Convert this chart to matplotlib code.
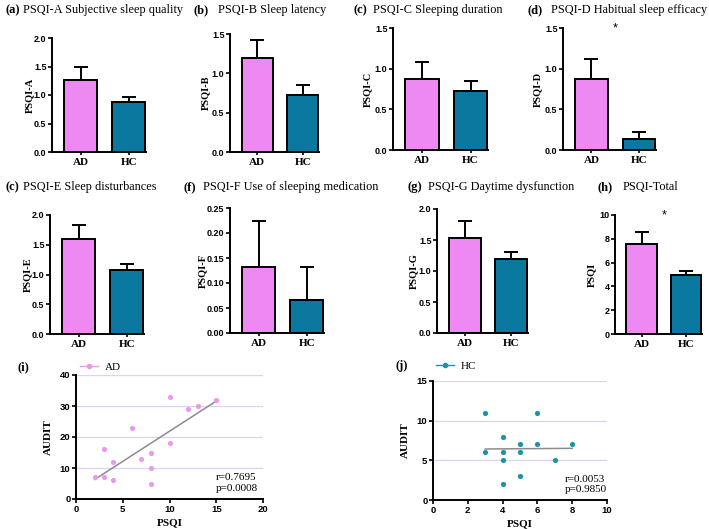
import matplotlib
matplotlib.use("Agg")
import matplotlib.pyplot as plt
import numpy as np
from matplotlib.lines import Line2D

# bar panels: tags, titles, y labels, means and mean+sem tops
groups = ["AD", "HC"]
panel_tags = ["(a)", "(b)", "(c)", "(d)", "(c)", "(f)", "(g)", "(h)"]
panel_titles = ["PSQI-A Subjective sleep quality", "PSQI-B Sleep latency",
                "PSQI-C Sleeping duration", "PSQI-D Habitual sleep efficacy",
                "PSQI-E Sleep disturbances", "PSQI-F Use of sleeping medication",
                "PSQI-G Daytime dysfunction", "PSQI-Total"]
ylabels = ["PSQI-A", "PSQI-B", "PSQI-C", "PSQI-D", "PSQI-E", "PSQI-F", "PSQI-G", "PSQI"]
ad_mean = [1.27, 1.20, 0.87, 0.87, 1.60, 0.133, 1.53, 7.53]
ad_top = [1.50, 1.42, 1.08, 1.12, 1.83, 0.224, 1.80, 8.53]
hc_mean = [0.87, 0.73, 0.73, 0.13, 1.07, 0.067, 1.20, 4.93]
hc_top = [0.96, 0.85, 0.85, 0.22, 1.18, 0.133, 1.30, 5.27]
ytick_sets = [[0, 0.5, 1.0, 1.5, 2.0], [0, 0.5, 1.0, 1.5], [0, 0.5, 1.0, 1.5],
              [0, 0.5, 1.0, 1.5], [0, 0.5, 1.0, 1.5, 2.0],
              [0, 0.05, 0.10, 0.15, 0.20, 0.25], [0, 0.5, 1.0, 1.5, 2.0],
              [0, 2, 4, 6, 8, 10]]
ytick_fmt = ["%.1f", "%.1f", "%.1f", "%.1f", "%.1f", "%.2f", "%.1f", "%d"]
stars = [False, False, False, True, False, False, False, True]

# scatter data
ad_psqi = [2, 3, 3, 4, 4, 6, 7, 8, 8, 8, 10, 10, 12, 13, 15]
ad_audit = [7, 7, 16, 12, 6, 23, 13, 15, 10, 5, 33, 18, 29, 30, 32]
hc_psqi = [3, 3, 4, 4, 4, 4, 5, 5, 5, 6, 6, 7, 8]
hc_audit = [11, 6, 8, 6, 5, 2, 7, 6, 3, 11, 7, 5, 7]

AD_COL = "#EE88F2"
HC_COL = "#0B78A0"
AD_DOT = "#E99AEB"
HC_DOT = "#1895A5"
GRID = "#D6D6F2"

W, H = 709, 529
fig = plt.figure(figsize=(W / 100, H / 100), dpi=100)
serif = "Liberation Serif"
sans = "Liberation Sans"


def box(l, t, r, b):
    return [l / W, 1 - b / H, (r - l) / W, (b - t) / H]


# pixel boxes (left, top, right, bottom) of each bar axes
bar_boxes = [(52, 38, 146, 152), (230, 34, 319, 152), (393, 28, 488, 150), (563, 28, 656, 150),
             (50, 215, 144, 334), (230, 208, 324, 333), (437, 209, 528, 333), (615, 215, 702, 334)]
title_pos = [(5, 10), (193, 10), (353, 10), (528, 10), (5, 187), (183, 187), (408, 187), (597, 187)]
title_gap = [18, 25, 20, 23, 18, 20, 20, 26]
ylabel_x = [30, 206, 368, 538, 28, 203, 414, 592]

for i in range(8):
    ax = fig.add_axes(box(*bar_boxes[i]))
    ax.bar([0, 1], [ad_mean[i], hc_mean[i]], width=0.69, color=[AD_COL, HC_COL],
           edgecolor="black", linewidth=1.4, zorder=2)
    for x, m, t in [(0, ad_mean[i], ad_top[i]), (1, hc_mean[i], hc_top[i])]:
        ax.errorbar([x], [m], yerr=[[0], [t - m]], fmt="none", ecolor="black",
                    elinewidth=1.4, capsize=5, capthick=1.4, zorder=1)
    ax.set_xlim(-0.6, 1.36)
    ax.set_ylim(0, ytick_sets[i][-1])
    ax.set_yticks(ytick_sets[i])
    ax.set_yticklabels([ytick_fmt[i] % v for v in ytick_sets[i]], fontfamily=sans,
                       fontweight="bold", fontsize=6.5)
    ax.set_xticks([0, 1])
    ax.set_xticklabels(groups, fontfamily=serif, fontweight="bold", fontsize=8)
    ax.tick_params(axis="y", length=3, width=1.2, pad=1)
    ax.tick_params(axis="x", length=2, width=1.2, pad=2)
    for s in ["top", "right"]:
        ax.spines[s].set_visible(False)
    for s in ["left", "bottom"]:
        ax.spines[s].set_linewidth(1.4)
    if stars[i]:
        ax.text(0.5, ytick_sets[i][-1], "*", ha="center", va="center", fontsize=9,
                fontfamily=sans)
    tx, ty = title_pos[i]
    fig.text(tx / W, 1 - ty / H, panel_tags[i], fontfamily=serif, fontweight="bold",
             fontsize=9, va="center")
    fig.text((tx + title_gap[i]) / W, 1 - ty / H, panel_titles[i], fontfamily=serif,
             fontsize=8.8, va="center")
    l, t, r, b = bar_boxes[i]
    fig.text(ylabel_x[i] / W, 1 - ((t + b) / 2) / H, ylabels[i], rotation=90,
             fontfamily=serif, fontweight="bold", fontsize=7.5, ha="center", va="center")


def scatter_panel(bx, xs, ys, xlim, xt, ylim, yt, dot, name, tag, tagpos, legx, rtxt, ptxt, rx):
    ax = fig.add_axes(box(*bx))
    for v in yt[1:]:
        ax.axhline(v, color=GRID, linewidth=0.9, zorder=0)
    ax.scatter(xs, ys, s=14, color=dot, zorder=3, linewidths=0)
    k, c = np.polyfit(xs, ys, 1)
    xx = np.array([min(xs), max(xs)])
    ax.plot(xx, k * xx + c, color="#8C8C8C", linewidth=1.1, zorder=2)
    ax.set_xlim(*xlim)
    ax.set_ylim(*ylim)
    ax.set_xticks(xt)
    ax.set_yticks(yt)
    for lab in ax.get_xticklabels() + ax.get_yticklabels():
        lab.set_fontfamily(sans)
        lab.set_fontweight("bold")
        lab.set_fontsize(6.8)
    ax.tick_params(length=3, width=1.2, pad=1)
    for s in ["top", "right"]:
        ax.spines[s].set_visible(False)
    for s in ["left", "bottom"]:
        ax.spines[s].set_linewidth(1.4)
    ax.set_xlabel("PSQI", fontfamily=serif, fontweight="bold", fontsize=8, labelpad=3)
    ax.set_ylabel("AUDIT", fontfamily=serif, fontweight="bold", fontsize=8, labelpad=5)
    ax.text(rx, ylim[1] * 0.17, rtxt, fontfamily=serif, fontsize=8, va="center")
    ax.text(rx, ylim[1] * 0.085, ptxt, fontfamily=serif, fontsize=8, va="center")
    fig.text(tagpos[0] / W, 1 - tagpos[1] / H, tag, fontfamily=serif, fontweight="bold",
             fontsize=9, va="center")
    h = Line2D([], [], color=dot, marker="o", markersize=3, linewidth=1)
    fig.legend([h], [name], loc="center left", bbox_to_anchor=(legx / W, 1 - tagpos[1] / H),
               frameon=False, prop={"family": serif, "size": 8}, handlelength=1.6,
               handletextpad=0.6, borderpad=0, borderaxespad=0)


scatter_panel((76, 375, 263, 499), ad_psqi, ad_audit, (0, 20), [0, 5, 10, 15, 20],
              (0, 40), [0, 10, 20, 30, 40], AD_DOT, "AD", "(i)", (17, 367), 80,
              "r=0.7695", "p=0.0008", 15.0)
scatter_panel((433, 381, 607, 500), hc_psqi, hc_audit, (0, 10), [0, 2, 4, 6, 8, 10],
              (0, 15), [0, 5, 10, 15], HC_DOT, "HC", "(j)", (395, 366), 436,
              "r=0.0053", "p=0.9850", 7.6)

fig.savefig("out.png", dpi=100)
